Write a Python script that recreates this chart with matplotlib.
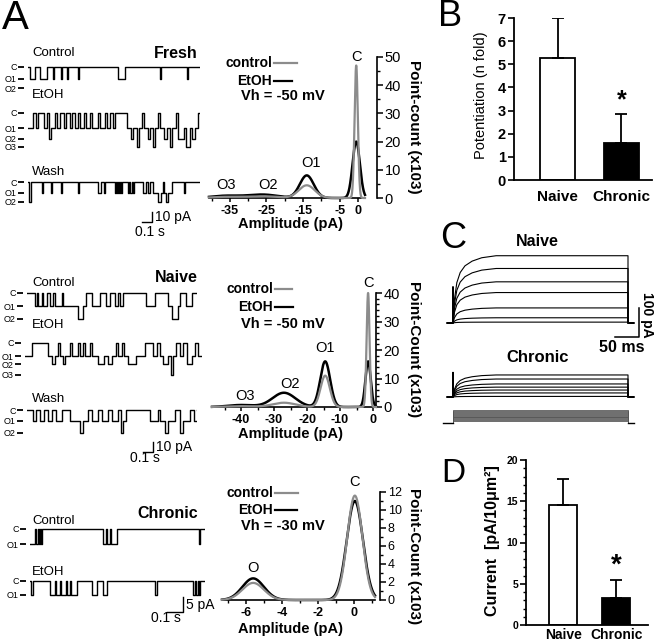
import numpy as np
import matplotlib
matplotlib.use("Agg")
import matplotlib.pyplot as plt
from matplotlib.lines import Line2D
from matplotlib.ticker import MultipleLocator

# ---------------- data ----------------
# panel A, single channel records: switch times (ms) and state index (0 = C, 1 = O1 ...)
fresh_ctrl_levels = [0, -12, -21]
fresh_ctrl_t = [0, 20, 70, 120, 190, 250, 260, 330, 340, 390, 400, 500, 510, 900, 970, 1320, 1330, 1590, 1600]
fresh_ctrl_s = [0, 1, 0, 1, 0, 1, 0, 1, 0, 1, 0, 1, 0, 1, 0, 1, 0, 1, 0]

fresh_etoh_levels = [0, -15, -26, -34]
fresh_etoh_t = [0, 50, 80, 100, 160, 190, 210, 230, 270, 290, 320, 360, 380, 420, 440, 470, 500, 520, 560, 580,
                620, 640, 700, 720, 770, 790, 820, 850, 870, 990, 1030, 1050, 1090, 1110, 1140, 1160, 1200, 1220,
                1250, 1270, 1300, 1320, 1360, 1390, 1420, 1440, 1480, 1500, 1560, 1580, 1620, 1640, 1670, 1700]
fresh_etoh_s = [1, 0, 1, 0, 1, 0, 2, 1, 0, 1, 0, 1, 0, 1, 0, 1, 0, 1, 0, 1,
                0, 1, 0, 1, 0, 1, 0, 1, 0, 1, 2, 1, 3, 1, 0, 1, 2, 1,
                3, 1, 0, 1, 2, 1, 3, 1, 0, 2, 1, 3, 1, 2, 1, 0]

fresh_wash_levels = [0, -11, -20]
fresh_wash_t = [0, 10, 30, 140, 150, 230, 240, 330, 340, 500, 510, 700, 730, 760, 770, 870, 880, 890, 900, 910,
                920, 930, 940, 1000, 1010, 1020, 1040, 1050, 1060, 1150, 1180, 1200, 1220, 1250, 1300, 1330, 1350,
                1360, 1380, 1400, 1440, 1560, 1570]
fresh_wash_s = [0, 2, 0, 1, 0, 1, 0, 1, 0, 1, 0, 1, 0, 1, 0, 1, 0, 1, 0, 1,
                0, 1, 0, 1, 0, 1, 0, 1, 0, 1, 0, 1, 0, 1, 2, 1, 0,
                1, 2, 1, 0, 1, 0]

naive_ctrl_levels = [0, -13, -26]
naive_ctrl_t = [0, 80, 100, 110, 150, 160, 200, 230, 260, 280, 350, 360, 510, 560, 590, 650, 730, 790, 830, 880,
                910, 930, 960, 1190, 1280, 1410, 1450, 1510, 1530, 1590, 1650]
naive_ctrl_s = [0, 1, 0, 1, 0, 1, 0, 1, 0, 1, 0, 1, 2, 1, 0, 1, 0, 1, 0, 1,
                0, 1, 0, 1, 0, 1, 2, 1, 0, 1, 0]

naive_etoh_levels = [0, -13, -21, -32]
naive_etoh_t = [0, 70, 230, 270, 300, 330, 350, 380, 400, 450, 470, 530, 550, 580, 600, 650, 670, 730, 790, 830,
                870, 910, 930, 970, 990, 1030, 1110, 1200, 1280, 1320, 1350, 1380, 1430, 1460, 1480, 1510, 1550,
                1580, 1620, 1670, 1700, 1730]
naive_etoh_s = [1, 0, 1, 2, 1, 0, 1, 2, 1, 0, 1, 0, 1, 0, 1, 0, 1, 2, 1, 2,
                1, 0, 1, 0, 1, 2, 1, 0, 1, 0, 1, 2, 1, 3, 1, 0, 1,
                0, 2, 1, 0, 1]

naive_wash_levels = [0, -11, -23]
naive_wash_t = [0, 60, 90, 130, 170, 210, 250, 290, 350, 430, 530, 560, 610, 650, 710, 750, 810, 850, 910, 940,
                960, 990, 1230, 1310, 1330, 1380, 1410, 1480, 1530, 1560, 1630, 1670, 1710]
naive_wash_s = [0, 1, 0, 1, 0, 1, 0, 1, 0, 1, 2, 1, 0, 1, 0, 1, 0, 1, 0, 2,
                1, 0, 1, 0, 1, 2, 1, 0, 2, 1, 0, 1, 0]

chronic_ctrl_levels = [0, -5]
chronic_ctrl_t = [0, 31, 38, 50, 56, 63, 69, 75, 456, 475, 481, 500, 506, 544, 1056, 1063]
chronic_ctrl_s = [1, 0, 1, 0, 1, 0, 1, 0, 1, 0, 1, 0, 1, 0, 1, 0]

chronic_etoh_levels = [0, -4.5]
chronic_etoh_t = [0, 6, 19, 125, 156, 163, 188, 194, 225, 231, 250, 256, 294, 388, 419, 456, 481, 781, 794,
                  1019, 1031, 1038, 1050, 1056, 1063]
chronic_etoh_s = [0, 1, 0, 1, 0, 1, 0, 1, 0, 1, 0, 1, 0, 1, 0, 1, 0, 1, 0, 1, 0, 1, 0, 1, 0]

# panel A, amplitude histograms (gaussian fits): centre (pA), height (x10^3), sd (pA)
fresh_ctrl_mu = [-0.5, -14.0, -26.0, -36.0]
fresh_ctrl_h = [47.0, 4.5, 0.6, 0.4]
fresh_ctrl_sd = [0.45, 2.2, 4.0, 4.0]
fresh_etoh_mu = [-0.5, -14.0, -26.0, -36.0]
fresh_etoh_h = [20.0, 8.0, 1.2, 0.8]
fresh_etoh_sd = [1.0, 1.9, 4.0, 4.0]

naive_ctrl_mu = [-1.5, -14.5, -27.0, -40.0]
naive_ctrl_h = [40.0, 11.0, 1.5, 0.3]
naive_ctrl_sd = [0.45, 1.4, 3.5, 4.0]
naive_etoh_mu = [-1.5, -14.5, -27.0, -40.0]
naive_etoh_h = [16.0, 16.0, 5.0, 0.7]
naive_etoh_sd = [0.8, 1.5, 3.5, 4.0]

chronic_ctrl_mu = [0.05, -5.6]
chronic_ctrl_h = [11.6, 1.9]
chronic_ctrl_sd = [0.42, 0.6]
chronic_etoh_mu = [0.05, -5.6]
chronic_etoh_h = [11.0, 2.4]
chronic_etoh_sd = [0.45, 0.6]

# panel B
groups = ["Naive", "Chronic"]
potentiation = [5.27, 1.6]
potentiation_err = [1.73, 1.26]

# panel C, whole cell currents (pA at steady state) and activation time course
naive_sweeps = [232, 188, 142, 105, 52, 18, 3]
chronic_sweeps = [76, 62, 45, 34, 24, 14, 2]
act_t = [0, 3, 8, 15, 25, 40, 60, 90, 365]
act_frac = [0, 0.35, 0.6, 0.75, 0.85, 0.92, 0.97, 1.0, 1.0]
naive_spike = 125
chronic_spike = 85
hold_mv = -80
step_mv = [-60, -50, -40, -30, -20, -10, 0, 10, 20, 30, 40, 50, 60]

# panel D
current_density = [14.6, 3.3]
current_err = [3.1, 2.1]

# ---------------- figure ----------------
W, H = 655, 644
plt.rcParams['font.family'] = ['Liberation Sans', 'DejaVu Sans']
fig = plt.figure(figsize=(W / 100, H / 100), dpi=100)


def px_axes(l, t, r, b):
    ax = fig.add_axes([l / W, 1 - b / H, (r - l) / W, (b - t) / H])
    ax.patch.set_alpha(0)
    return ax


def ftext(x, y, s, **kw):
    fig.text(x / W, 1 - y / H, s, **kw)


def fline(xs, ys, **kw):
    fig.add_artist(Line2D([x / W for x in xs], [1 - y / H for y in ys], **kw))


def draw_trace(x0, yc, ppa, ppms, levels, labels, t, s, tmax):
    depth = -min(levels) * ppa
    ax = px_axes(x0, yc - 6, x0 + tmax * ppms, yc + depth + 6)
    ax.set_xlim(0, tmax)
    ax.set_ylim(-(depth + 6) / ppa, 6 / ppa)
    lv = np.array(levels, dtype=float)
    ys = lv[np.array(list(s) + [s[-1]])]
    ax.step(list(t) + [tmax], ys, where='post', color='k', lw=1.0)
    ax.set_xticks([])
    ax.set_yticks(levels)
    ax.set_yticklabels(labels)
    ax.tick_params(axis='y', length=4, width=1.3, pad=1.2, labelsize=6.5)
    for sp in ax.spines.values():
        sp.set_visible(False)
    ax.spines['left'].set_position(('outward', 3))
    return ax


def gauss_sum(x, mu, h, sd):
    y = np.zeros_like(x)
    for m, hh, ss in zip(mu, h, sd):
        y += hh * np.exp(-0.5 * ((x - m) / ss) ** 2)
    return y


def hist_panel(l, r, y0, ytop, xlim, ylim, xticks, xminor, ymaj, ymin, spine_out,
               ctrl, etoh, ysize):
    ax = px_axes(l, ytop, r, y0)
    x = np.linspace(xlim[0], xlim[1], 2000)
    ax.plot(x, gauss_sum(x, *etoh), color='black', lw=1.8, clip_on=False, zorder=3)
    ax.plot(x, gauss_sum(x, *ctrl), color='#8c8c8c', lw=1.6, clip_on=False, zorder=4)
    ax.set_xlim(*xlim)
    ax.set_ylim(*ylim)
    ax.spines['top'].set_visible(False)
    ax.spines['left'].set_visible(False)
    ax.spines['bottom'].set_linewidth(1.2)
    ax.spines['right'].set_linewidth(1.2)
    ax.spines['right'].set_position(('outward', spine_out))
    ax.yaxis.tick_right()
    ax.set_xticks(xticks)
    ax.set_xticklabels([f"{v:g}" for v in xticks])
    ax.xaxis.set_minor_locator(MultipleLocator(xminor))
    ax.yaxis.set_major_locator(MultipleLocator(ymaj))
    ax.yaxis.set_minor_locator(MultipleLocator(ymin))
    ax.tick_params(axis='x', which='major', length=3, width=1.1, pad=2, labelsize=9)
    ax.tick_params(axis='x', which='minor', length=2, width=1.0)
    ax.tick_params(axis='y', which='major', length=4, width=1.1, pad=1.5, labelsize=ysize)
    ax.tick_params(axis='y', which='minor', length=2.5, width=1.0)
    for lab in ax.get_xticklabels():
        lab.set_fontweight('bold')
    return ax


def legend_block(yc, ye, yv, xr, x1c, x1e, vh):
    ftext(xr, yc, "control", ha='right', va='center', fontsize=10, fontweight='bold')
    fline([xr + 2, x1c], [yc, yc], color='#8c8c8c', lw=1.6)
    ftext(xr, ye, "EtOH", ha='right', va='center', fontsize=10, fontweight='bold')
    fline([xr + 2, x1e], [ye, ye], color='black', lw=1.6)
    ftext(241, yv, vh, ha='left', va='center', fontsize=10.5, fontweight='bold')


# ---- panel labels ----
ftext(2, 18, "A", fontsize=29, va='center', ha='left')
ftext(438, 16, "B", fontsize=26, va='center', ha='left')
ftext(440, 238, "C", fontsize=26, va='center', ha='left')
ftext(441, 474, "D", fontsize=24, va='center', ha='left')

# ---- A: Fresh ----
ftext(32, 53, "Control", fontsize=9.5, va='center')
ftext(198, 53, "Fresh", fontsize=11.5, fontweight='bold', ha='right', va='center')
draw_trace(28, 67, 1.0, 0.1, fresh_ctrl_levels, ["C", "O1", "O2"], fresh_ctrl_t, fresh_ctrl_s, 1720)
ftext(32, 95, "EtOH", fontsize=9.5, va='center')
draw_trace(28, 113, 1.0, 0.1, fresh_etoh_levels, ["C", "O1", "O2", "O3"], fresh_etoh_t, fresh_etoh_s, 1720)
ftext(32, 172, "Wash", fontsize=9.5, va='center')
ax = draw_trace(28, 182, 1.0, 0.1, fresh_wash_levels, ["C", "O1", "O2"], fresh_wash_t, fresh_wash_s, 1720)
ax.plot([1140, 1240, 1240], [-40, -40, -30], color='k', lw=1.0, clip_on=False)
ax.text(1270, -35, "10 pA", fontsize=10, va='center', ha='left')
ax.text(1220, -50, "0.1 s", fontsize=10, va='center', ha='center')

hist_panel(209, 365, 198, 57, (-40.7, 1.9), (0, 50), [-35, -25, -15, -5, 0], 5, 10, 5, 8.5,
           (fresh_ctrl_mu, fresh_ctrl_h, fresh_ctrl_sd), (fresh_etoh_mu, fresh_etoh_h, fresh_etoh_sd), 10.5)
legend_block(63, 81, 96, 272, 297, 292, "Vh = -50 mV")
ftext(357, 57, "C", fontsize=10.5, ha='center', va='center')
ftext(311, 163, "O1", fontsize=10.5, ha='center', va='center')
ftext(268, 185, "O2", fontsize=10.5, ha='center', va='center')
ftext(226, 185, "O3", fontsize=10.5, ha='center', va='center')
ftext(414, 127, "Point-count (x103)", rotation=-90, fontsize=11, fontweight='bold', ha='center', va='center')
ftext(291, 224, "Amplitude (pA)", fontsize=10.5, fontweight='bold', ha='center', va='center')

# ---- A: Naive ----
ftext(198, 277, "Naive", fontsize=11.5, fontweight='bold', ha='right', va='center')
ftext(32, 283, "Control", fontsize=9.5, va='center')
draw_trace(27, 293, 1.0, 0.1, naive_ctrl_levels, ["C", "O1", "O2"], naive_ctrl_t, naive_ctrl_s, 1700)
ftext(32, 325, "EtOH", fontsize=9.5, va='center')
draw_trace(25, 343, 1.0, 0.1, naive_etoh_levels, ["C", "O1", "O2", "O3"], naive_etoh_t, naive_etoh_s, 1770)
ftext(32, 399, "Wash", fontsize=9.5, va='center')
ax = draw_trace(27, 410, 1.0, 0.1, naive_wash_levels, ["C", "O1", "O2"], naive_wash_t, naive_wash_s, 1700)
ax.plot([1160, 1260, 1260], [-42, -42, -32], color='k', lw=1.0, clip_on=False)
ax.text(1290, -37, "10 pA", fontsize=10, va='center', ha='left')
ax.text(1180, -48, "0.1 s", fontsize=10, va='center', ha='center')

hist_panel(212, 376, 407, 293, (-48.8, 0.9), (0, 40), [-40, -30, -20, -10, 0], 5, 10, 2, 0,
           (naive_ctrl_mu, naive_ctrl_h, naive_ctrl_sd), (naive_etoh_mu, naive_etoh_h, naive_etoh_sd), 10.5)
legend_block(289, 307, 324, 273, 292, 293, "Vh = -50 mV")
ftext(368, 283, "C", fontsize=10.5, ha='center', va='center')
ftext(325, 348, "O1", fontsize=10.5, ha='center', va='center')
ftext(290, 384, "O2", fontsize=10.5, ha='center', va='center')
ftext(245, 396, "O3", fontsize=10.5, ha='center', va='center')
ftext(414, 349, "Point-Count (x103)", rotation=-90, fontsize=11, fontweight='bold', ha='center', va='center')
ftext(291, 434, "Amplitude (pA)", fontsize=10.5, fontweight='bold', ha='center', va='center')

# ---- A: Chronic ----
ftext(198, 513, "Chronic", fontsize=11.5, fontweight='bold', ha='right', va='center')
ftext(32, 521, "Control", fontsize=9.5, va='center')
draw_trace(30, 529, 3.0, 0.16, chronic_ctrl_levels, ["C", "O1"], chronic_ctrl_t, chronic_ctrl_s, 1094)
ftext(32, 572, "EtOH", fontsize=9.5, va='center')
ax = draw_trace(30, 581, 3.0, 0.16, chronic_etoh_levels, ["C", "O1"], chronic_etoh_t, chronic_etoh_s, 1094)
ax.plot([856, 956, 956], [-10.3, -10.3, -5.3], color='k', lw=1.0, clip_on=False)
ax.text(975, -8, "5 pA", fontsize=10, va='center', ha='left')
ax.text(850, -12.3, "0.1 s", fontsize=10, va='center', ha='center')

hist_panel(222, 375, 600, 492, (-7.33, 1.17), (0, 12), [-6, -4, -2, 0], 1, 2, 1, 3.6,
           (chronic_ctrl_mu, chronic_ctrl_h, chronic_ctrl_sd),
           (chronic_etoh_mu, chronic_etoh_h, chronic_etoh_sd), 9)
legend_block(493, 510, 526, 273, 298, 297, "Vh = -30 mV")
ftext(355, 482, "C", fontsize=10.5, ha='center', va='center')
ftext(253, 568, "O", fontsize=10.5, ha='center', va='center')
ftext(414, 556, "Point-Count (x103)", rotation=-90, fontsize=11, fontweight='bold', ha='center', va='center')
ftext(291, 629, "Amplitude (pA)", fontsize=10.5, fontweight='bold', ha='center', va='center')

# ---- B ----
axb = px_axes(514, 18, 652, 180)
xpos = np.arange(len(groups))
axb.bar(xpos, potentiation, width=0.55, color=['white', 'black'], edgecolor='black', linewidth=1.3, zorder=2)
axb.errorbar(xpos, potentiation, yerr=[[0, 0], potentiation_err], fmt='none', ecolor='black',
             elinewidth=1.3, capsize=4, capthick=1.3, zorder=3)
axb.text(1, potentiation[1] + potentiation_err[1] + 0.05, "*", fontsize=18, fontweight='bold',
         ha='center', va='bottom')
axb.set_xlim(-0.69, 1.48)
axb.set_ylim(0, 7)
axb.set_yticks(range(8))
axb.set_xticks(xpos)
axb.set_xticklabels(groups)
axb.spines['top'].set_visible(False)
axb.spines['right'].set_visible(False)
axb.spines['left'].set_linewidth(1.3)
axb.spines['bottom'].set_linewidth(1.3)
axb.tick_params(axis='y', length=4, width=1.2, labelsize=10.5, pad=2)
axb.tick_params(axis='x', length=0, labelsize=11, pad=7)
for lab in axb.get_xticklabels() + axb.get_yticklabels():
    lab.set_fontweight('bold')
ftext(481, 95, "Potentiation (n fold)", rotation=90, fontsize=10.5, ha='center', va='center')

# ---- C ----
ftext(537, 242, "Naive", fontsize=11.5, fontweight='bold', ha='center', va='center')
ftext(538, 358, "Chronic", fontsize=12, fontweight='bold', ha='center', va='center')
ms_px = 365 / 175
pa_px = 100 / 29


def current_axes(top, base, bottom, sweeps, spike):
    ax = px_axes(440, top, 645, bottom)
    ax.set_xlim((440 - 453) * ms_px, (645 - 453) * ms_px)
    ax.set_ylim(-(bottom - base) * pa_px, (base - top) * pa_px)
    for i, lvl in enumerate(sweeps):
        tt = [-12, 0] + act_t + [act_t[-1], act_t[-1] + 12]
        yy = [0, 0] + [lvl * f for f in act_frac] + [0, 0]
        if i == 0:
            tt = [-12, 0, 0] + act_t + [act_t[-1], act_t[-1] + 12]
            yy = [0, 0, spike] + [lvl * f for f in act_frac] + [0, 0]
        ax.plot(tt, yy, color='black', lw=0.8)
    ax.axis('off')
    return ax


axc = current_axes(250, 323, 340, naive_sweeps, naive_spike)
axc.plot([338, 388, 388], [-48, -48, 52], color='black', lw=1.1, clip_on=False)
ftext(647, 315, "100 pA", rotation=-90, fontsize=10, fontweight='bold', ha='center', va='center')
ftext(622, 348, "50 ms", fontsize=11.5, fontweight='bold', ha='center', va='center')
current_axes(365, 397, 402, chronic_sweeps, chronic_spike)

axv = px_axes(440, 405, 645, 428)
axv.set_xlim((440 - 453) * ms_px, (645 - 453) * ms_px)
mv_px = (step_mv[-1] - hold_mv) / 13
axv.set_ylim(hold_mv - 5 * mv_px, step_mv[-1] + 5 * mv_px)
for v in step_mv:
    axv.plot([-21, 0, 0, 365, 365, 378], [hold_mv, hold_mv, v, v, hold_mv, hold_mv],
             color='#555555', lw=0.6)
axv.plot([-21, 0], [hold_mv, hold_mv], color='black', lw=1.0)
axv.plot([365, 378], [hold_mv, hold_mv], color='black', lw=1.0)
axv.axis('off')

# ---- D ----
axd = px_axes(526, 460, 648, 625)
axd.bar(xpos, current_density, width=0.53, color=['white', 'black'], edgecolor='black', linewidth=1.3, zorder=2)
axd.errorbar(xpos, current_density, yerr=[[0, 0], current_err], fmt='none', ecolor='black',
             elinewidth=1.3, capsize=4, capthick=1.3, zorder=3)
axd.text(1, current_density[1] + current_err[1] + 0.2, "*", fontsize=20, fontweight='bold',
         ha='center', va='bottom')
axd.set_xlim(-0.7, 1.6)
axd.set_ylim(0, 20)
axd.yaxis.set_major_locator(MultipleLocator(5))
axd.yaxis.set_minor_locator(MultipleLocator(1))
axd.set_xticks(xpos)
axd.set_xticklabels(groups)
axd.spines['top'].set_visible(False)
axd.spines['right'].set_visible(False)
axd.spines['left'].set_linewidth(1.3)
axd.spines['bottom'].set_linewidth(1.3)
axd.tick_params(axis='y', which='major', length=4, width=1.2, labelsize=7.5, pad=1.5)
axd.tick_params(axis='y', which='minor', length=2.5, width=1.0)
axd.tick_params(axis='x', length=0, labelsize=10, pad=2.5)
for lab in axd.get_xticklabels() + axd.get_yticklabels():
    lab.set_fontweight('bold')
ftext(493, 541, "Current  [pA/10μm²]", rotation=90, fontsize=11.5, fontweight='bold', ha='center', va='center')

fig.savefig("out.png", dpi=100)
